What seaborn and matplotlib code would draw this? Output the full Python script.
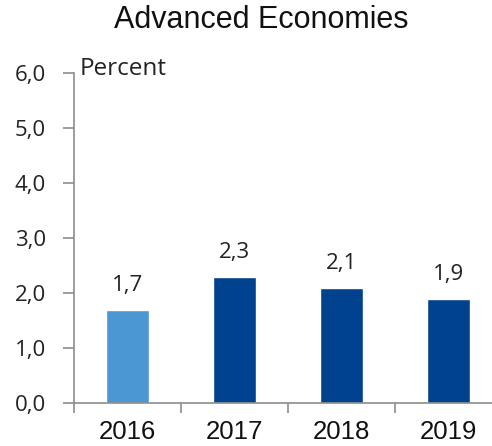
import matplotlib
matplotlib.use("Agg")
import matplotlib.pyplot as plt
import seaborn as sns
import pandas as pd

# chart data
years = ["2016", "2017", "2018", "2019"]
growth = [1.7, 2.3, 2.1, 1.9]
bar_colors = ["#4A97D3", "#01428F", "#01428F", "#01428F"]
y_ticks = [0.0, 1.0, 2.0, 3.0, 4.0, 5.0, 6.0]

df = pd.DataFrame({"year": years, "growth": growth})

sns.set_theme(style="white")
plt.rcParams["font.family"] = ["Open Sans", "DejaVu Sans"]

fig = plt.figure(figsize=(4.92, 4.46), dpi=100)
ax = fig.add_axes([74 / 492, 43 / 446, 418 / 492, 330 / 446])

sns.barplot(data=df, x="year", y="growth", hue="year", palette=bar_colors,
            width=0.4, legend=False, ax=ax, saturation=1)

ax.set_xlim(-0.5, 3.41)
ax.set_ylim(0, 6)
ax.set_yticks(y_ticks)
ax.set_yticklabels([f"{v:.1f}".replace(".", ",") for v in y_ticks], fontsize=16, color="#222222")

# x ticks at category boundaries, labels at centers
ax.set_xticks([i - 0.5 for i in range(len(years))], minor=False)
ax.set_xticklabels([])
ax.set_xticks(range(len(years)), minor=True)
ax.set_xticklabels(years, minor=True, fontsize=18.5, family="Liberation Sans", color="#111111")
ax.tick_params(axis="x", which="major", direction="out", length=7, width=1.2, color="#8c8c8c", bottom=True)
ax.tick_params(axis="x", which="minor", length=0, pad=12, bottom=True)
ax.tick_params(axis="y", direction="out", length=8, width=1.2, color="#8c8c8c", left=True, pad=12)

for s in ["top", "right"]:
    ax.spines[s].set_visible(False)
for s in ["left", "bottom"]:
    ax.spines[s].set_color("#8c8c8c")
    ax.spines[s].set_linewidth(1.2)

ax.set_xlabel("")
ax.set_ylabel("")

for i, v in enumerate(growth):
    ax.text(i, v + 0.33, f"{v:.1f}".replace(".", ","), ha="center", va="baseline",
            fontsize=16, color="#222222")

ax.text(0.014, 5.96, "Percent", fontsize=17.5, color="#222222", va="baseline", ha="left",
        transform=ax.get_yaxis_transform())

fig.text(261 / 492, 1 - 28 / 446, "Advanced Economies", ha="center", va="baseline",
         fontsize=22, family="Liberation Sans", color="#111111")

fig.savefig("out.png", dpi=100)
